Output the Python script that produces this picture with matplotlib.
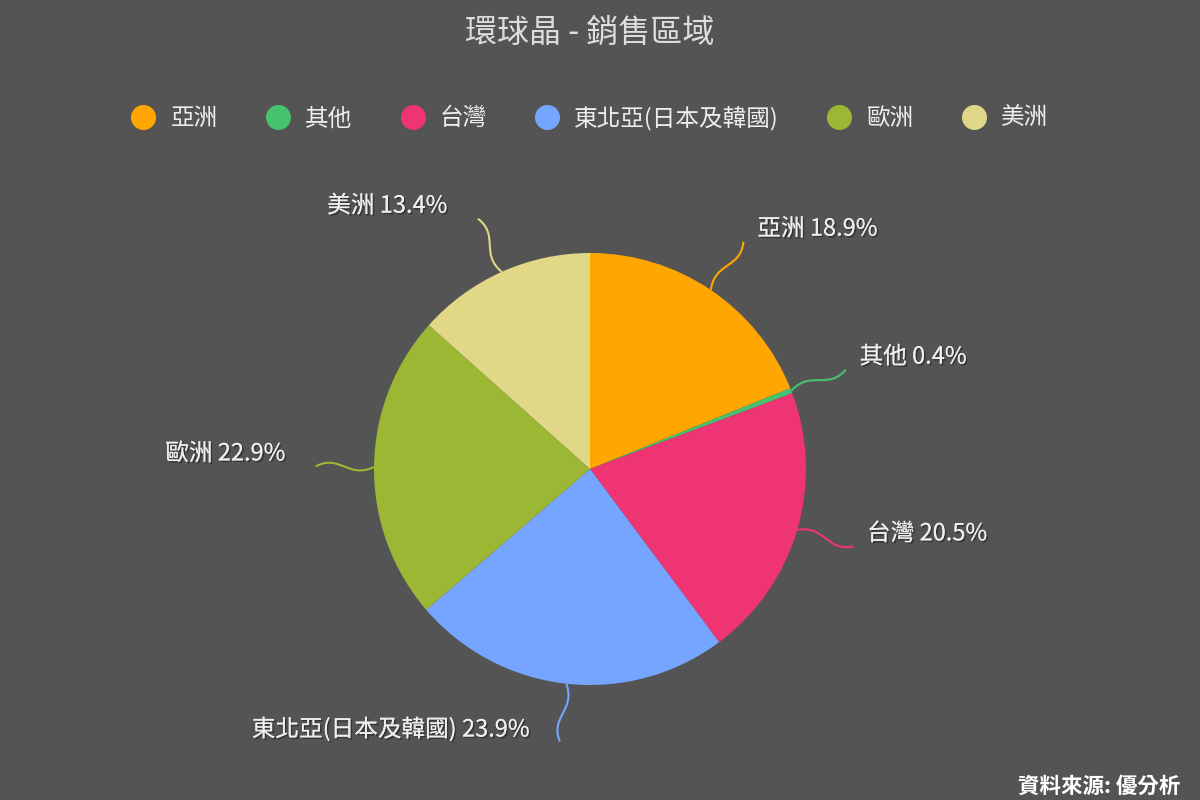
import matplotlib
matplotlib.use('Agg')
import matplotlib.pyplot as plt
import matplotlib.patheffects as pe
from matplotlib.lines import Line2D
from matplotlib.path import Path
from matplotlib.patches import PathPatch
import numpy as np

plt.rcParams['font.family'] = ['Noto Sans CJK TC', 'DejaVu Sans']

# data
regions = ['亞洲', '其他', '台灣', '東北亞(日本及韓國)', '歐洲', '美洲']
shares = [18.9, 0.4, 20.5, 23.9, 22.9, 13.4]
colors = ['#ffa600', '#47c26f', '#ef3473', '#76a5ff', '#9bb734', '#e0d886']

bg = '#545454'
txt = '#eeeeee'

fig = plt.figure(figsize=(12, 8), dpi=100, facecolor=bg)
ax = fig.add_axes([0, 0, 1, 1])
ax.set_facecolor(bg)

wedges, _ = ax.pie(shares, colors=colors, startangle=90, counterclock=False,
                   radius=1.0, wedgeprops=dict(linewidth=0))

# 1 data unit = 216 px, pie centre at pixel (590, 469)
ax.set_xlim(-590 / 216, 610 / 216)
ax.set_ylim(-331 / 216, 469 / 216)
ax.axis('off')

shadow = [pe.withSimplePatchShadow(offset=(1.2, -1.2), shadow_rgbFace='black', alpha=0.35),
          pe.Normal()]

for w, name, val, c in zip(wedges, regions, shares, colors):
    mid = np.deg2rad((w.theta1 + w.theta2) / 2)
    d = np.deg2rad(3)
    pts = [(np.cos(mid), np.sin(mid)),
           (1.12 * np.cos(mid + d), 1.12 * np.sin(mid + d)),
           (1.16 * np.cos(mid - d), 1.16 * np.sin(mid - d)),
           (1.27 * np.cos(mid), 1.27 * np.sin(mid))]
    path = Path(pts, [Path.MOVETO, Path.CURVE4, Path.CURVE4, Path.CURVE4])
    ax.add_patch(PathPatch(path, fill=False, edgecolor=c, linewidth=1.5))
    ex, ey = pts[-1]
    right = ex >= 0
    ax.annotate(f'{name} {val}%', xy=(ex, ey),
                xytext=(10 if right else -22, 9), textcoords='offset points',
                ha='left' if right else 'right', va='center',
                fontsize=17, color=txt, path_effects=shadow)

# title and source
fig.text(590 / 1200, 1 - 33 / 800, '環球晶 - 銷售區域', ha='center', va='center',
         fontsize=23, color='#dddddd')
fig.text(1180 / 1200, 1 - 786 / 800, '資料來源: 優分析', ha='right', va='center',
         fontsize=15.5, color='white', fontweight='bold')

# legend across the top
handles = [Line2D([], [], marker='o', linestyle='none', markersize=17,
                  markerfacecolor=c, markeredgecolor=c) for c in colors]
leg = fig.legend(handles, regions, loc='center', bbox_to_anchor=(590 / 1200, 1 - 118 / 800),
                 ncol=6, frameon=False, fontsize=17, labelcolor=txt,
                 handletextpad=0.65, columnspacing=2.05, handlelength=1.0)

plt.savefig('out.png', dpi=100, facecolor=bg)
